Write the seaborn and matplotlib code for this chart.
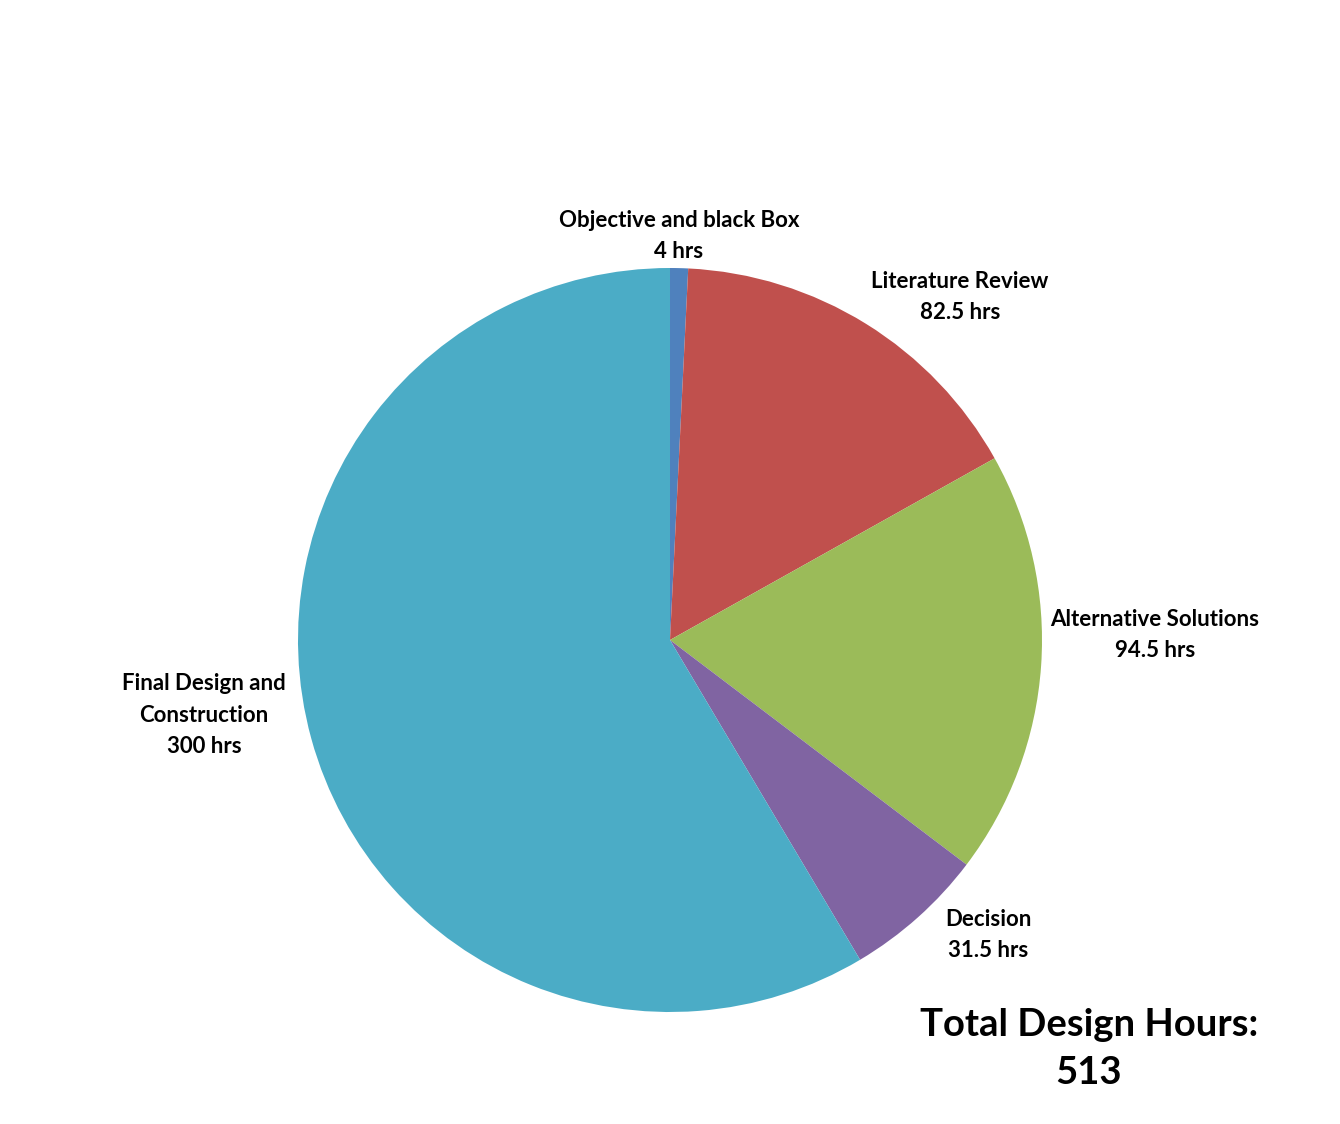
import numpy as np
import matplotlib
matplotlib.use("Agg")
import matplotlib.pyplot as plt
import seaborn as sns

categories = ["Objective and black Box", "Literature Review", "Alternative Solutions",
              "Decision", "Final Design and\nConstruction"]
hours = [4, 82.5, 94.5, 31.5, 300]
colors = ["#4F81BD", "#C0504D", "#9BBB59", "#8064A2", "#4BACC6"]
total_hours = 513

sns.set_theme(style="white")
plt.rcParams['font.family'] = ['Lato', 'DejaVu Sans']

W, H = 1340, 1124
fig = plt.figure(figsize=(W / 100, H / 100), dpi=100)
ax = fig.add_axes([0, 0, 1, 1])
ax.set_xlim(0, W)
ax.set_ylim(0, H)
ax.set_aspect('equal')
ax.axis('off')

palette = sns.color_palette(colors)
ax.pie(hours, colors=palette, startangle=90, counterclock=False,
       center=(670, H - 640), radius=372,
       wedgeprops=dict(linewidth=0, edgecolor='none'))
ax.set_xlim(0, W)
ax.set_ylim(0, H)

label_pos = [(679, 236), (960, 297), (1155, 635), (988, 935), (204, 715)]
for cat, v, (x, y) in zip(categories, hours, label_pos):
    ax.text(x, H - y, f"{cat}\n{v:g} hrs", ha='center', va='center',
            fontsize=16, fontweight='bold', color='black', linespacing=1.6)

ax.text(1089, H - 1049, f"Total Design Hours:\n{total_hours}", ha='center', va='center',
        fontsize=27.5, fontweight='bold', color='black', linespacing=1.5)

fig.savefig("out.png", dpi=100, facecolor='white')
